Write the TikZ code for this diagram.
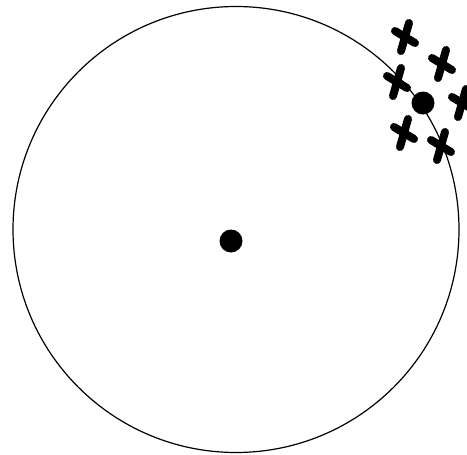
\documentclass[tikz,border=0pt]{standalone}
\usepackage{tikz}
\usetikzlibrary{positioning}

\begin{document}
\begin{tikzpicture}[
  x=1pt,y=-1pt,
  rim/.style={draw,circle,line width=1.2pt,minimum size=446pt,inner sep=0pt},
  dot/.style={circle,fill=black,inner sep=0pt,minimum size=23pt},
  xstroke/.style={line width=8pt,line cap=round,black},
  xsign/.pic={
    \draw[xstroke] (4,-14) -- (-4,14);
    \draw[xstroke] (-10,-6) -- (10,6);
  }
]
\useasboundingbox (0,0) rectangle (467,455);
% the large circle and its centre
\node[rim] (disc) at (236,229.5) {};
\node[dot] (centre) at (231,241) {};
% the point on the rim
\node[dot] (edge) at (423,103) {};
% crosses gathered round it
\pic (xa) at (405,37)  {xsign};
\pic (xb) at (442,64)  {xsign};
\pic (xc) at (397,82)  {xsign};
\pic (xd) at (462,103) {xsign};
\pic (xe) at (404,133) {xsign};
\pic (xf) at (441,146) {xsign};
\end{tikzpicture}
\end{document}
